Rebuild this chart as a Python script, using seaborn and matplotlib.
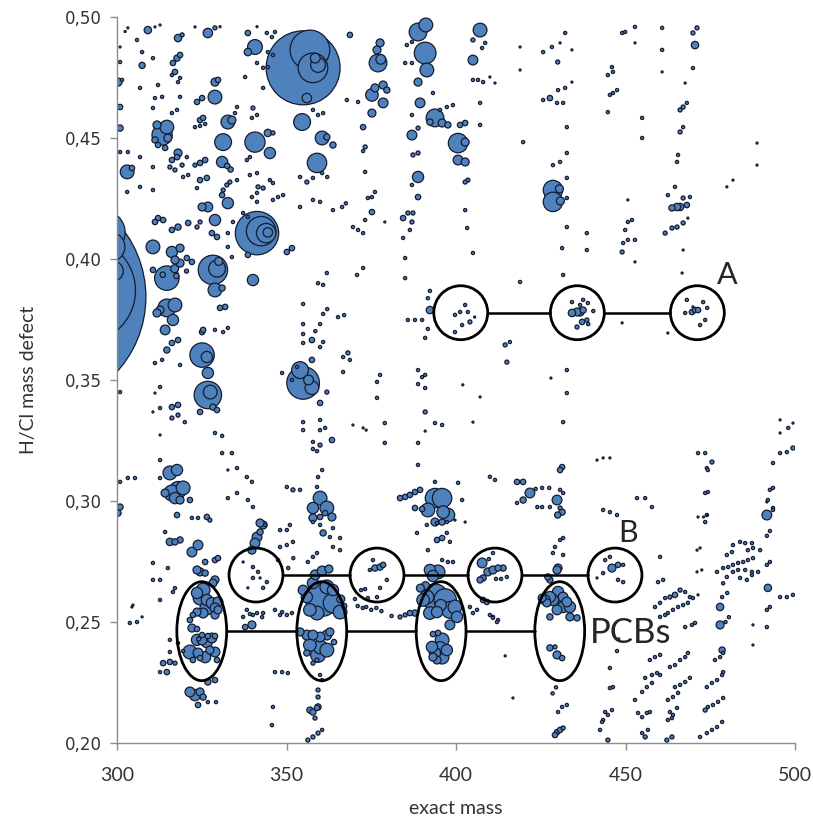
import numpy as np
import pandas as pd
import matplotlib
matplotlib.use("Agg")
import matplotlib.pyplot as plt
from matplotlib.patches import Ellipse
import seaborn as sns

# --- data: (exact mass, H/Cl mass defect, intensity) ---
big_bubbles = [
    (275.7, 0.3843, 15800), (290.0, 0.3870, 3500), (296.0, 0.4110, 600), (298.0, 0.4050, 275),
    (299.0, 0.3950, 120),
    (354.9, 0.4790, 1745), (356.9, 0.4864, 500), (357.8, 0.4790, 280), (359.3, 0.4802, 70),
    (356.0, 0.4665, 28), (358.5, 0.4830, 30),
    (341.3, 0.4107, 600), (342.5, 0.4115, 275), (344.0, 0.4107, 120), (344.5, 0.4110, 28),
    (328.3, 0.3955, 275), (329.5, 0.3960, 90), (330.0, 0.3990, 20),
    (354.9, 0.3488, 340), (354.0, 0.3541, 90), (357.5, 0.3468, 60), (356.5, 0.3500, 30),
    (326.8, 0.3438, 240), (327.5, 0.3450, 60),
    (325.1, 0.3603, 190), (326.5, 0.3595, 40),
]

upper_left = [
    (302.4, 0.4940, 1), (303.2, 0.4955, 1), (309.1, 0.4946, 17), (311.2, 0.4959, 1), (312.7, 0.4967, 1),
    (318.0, 0.4913, 17), (319.2, 0.4926, 5), (323.0, 0.4959, 1), (326.8, 0.4934, 28), (328.9, 0.4955, 5),
    (330.4, 0.4960, 1), (338.6, 0.4934, 9), (341.3, 0.4960, 1), (344.2, 0.4934, 3), (345.7, 0.4917, 3),
    (346.6, 0.4938, 3), (340.7, 0.4876, 70), (338.6, 0.4855, 17), (341.3, 0.4810, 3), (343.1, 0.4790, 3),
    (344.5, 0.4793, 3), (344.5, 0.4855, 3), (346.0, 0.4843, 3),
    (300.9, 0.4876, 1), (300.9, 0.4814, 3), (300.3, 0.4731, 20), (301.5, 0.4740, 3), (300.9, 0.4628, 9),
    (300.9, 0.4541, 12), (305.9, 0.4905, 3), (307.4, 0.4855, 3), (307.4, 0.4800, 12), (306.8, 0.4707, 3),
    (310.6, 0.4830, 3), (312.1, 0.4719, 3), (311.2, 0.4665, 3), (313.3, 0.4670, 3), (310.6, 0.4624, 3),
    (316.5, 0.4810, 9), (317.7, 0.4830, 12), (318.6, 0.4843, 9), (317.1, 0.4773, 9), (316.2, 0.4760, 3),
    (318.6, 0.4748, 3), (318.0, 0.4731, 3), (318.6, 0.4670, 3), (317.7, 0.4616, 3), (316.2, 0.4603, 3),
    (314.7, 0.4545, 60), (313.3, 0.4512, 130), (311.8, 0.4554, 20), (311.2, 0.4492, 12), (315.0, 0.4500, 20),
    (312.1, 0.4471, 9), (314.2, 0.4459, 9),
    (303.0, 0.4360, 60), (304.4, 0.4376, 9), (300.9, 0.4442, 3), (303.2, 0.4442, 3), (306.8, 0.4421, 3),
    (310.6, 0.4380, 3),
    (316.2, 0.4409, 9), (317.7, 0.4421, 9), (318.0, 0.4438, 20), (315.6, 0.4380, 5), (317.1, 0.4368, 5),
    (319.2, 0.4388, 5), (320.6, 0.4421, 3), (323.0, 0.4388, 5), (324.5, 0.4397, 9), (326.0, 0.4409, 9),
    (319.5, 0.4339, 3), (321.0, 0.4347, 3), (324.5, 0.4326, 9), (326.5, 0.4335, 9), (323.6, 0.4293, 3),
    (310.6, 0.4285, 3), (306.8, 0.4298, 3), (303.0, 0.4277, 3),
    (311.2, 0.4153, 9), (312.1, 0.4169, 9), (313.6, 0.4161, 9), (316.2, 0.4120, 9), (318.0, 0.4132, 12),
    (321.0, 0.4149, 9),
    (310.6, 0.4050, 60), (316.2, 0.4029, 40), (318.6, 0.4045, 20), (320.6, 0.4004, 9), (322.1, 0.3988, 9),
    (317.1, 0.3996, 20), (318.6, 0.3983, 20),
    (332.7, 0.4231, 40), (331.0, 0.4264, 9), (325.1, 0.4215, 20), (326.8, 0.4215, 30), (328.9, 0.4161, 40),
    (328.0, 0.4107, 9), (329.5, 0.4091, 9), (324.5, 0.4153, 5), (323.6, 0.4132, 5), (334.2, 0.4153, 3),
    (332.7, 0.4107, 3), (332.7, 0.4050, 3), (333.9, 0.4008, 3), (331.3, 0.4285, 5), (332.4, 0.4306, 5),
    (333.3, 0.4318, 5), (335.4, 0.4326, 3),
    (331.3, 0.4483, 90), (332.7, 0.4566, 60), (333.9, 0.4574, 20), (331.0, 0.4401, 40), (332.5, 0.4385, 9),
    (333.5, 0.4370, 9), (328.9, 0.4669, 60), (328.9, 0.4731, 20), (329.8, 0.4740, 9), (324.5, 0.4574, 9),
    (325.4, 0.4583, 9), (323.6, 0.4649, 9), (325.1, 0.4665, 9), (323.0, 0.4545, 3), (324.5, 0.4550, 3),
    (326.0, 0.4558, 3),
    (334.8, 0.4603, 3), (335.4, 0.4628, 3), (337.8, 0.4752, 3), (343.1, 0.4707, 3), (340.1, 0.4624, 5),
    (339.8, 0.4583, 3), (341.3, 0.4595, 3),
    (340.7, 0.4483, 130), (345.1, 0.4438, 40), (344.5, 0.4521, 17), (346.0, 0.4521, 5), (338.3, 0.4409, 3),
    (339.2, 0.4421, 3), (339.2, 0.4347, 3), (341.3, 0.4355, 3), (341.6, 0.4298, 5), (343.1, 0.4293, 5),
    (345.1, 0.4326, 3), (346.0, 0.4314, 3), (339.8, 0.4256, 3), (341.3, 0.4273, 3), (346.0, 0.4244, 3),
    (347.5, 0.4256, 3), (349.0, 0.4264, 3), (341.3, 0.4236, 3), (337.2, 0.4190, 3), (338.6, 0.4174, 3),
    (340.1, 0.3913, 40), (338.6, 0.4017, 9), (350.1, 0.4029, 9), (351.6, 0.4045, 9),
    (354.0, 0.4215, 3), (357.8, 0.4244, 3), (359.9, 0.4236, 3), (354.0, 0.4339, 3), (356.0, 0.4318, 5),
    (357.8, 0.4335, 3),
    (359.0, 0.4397, 120), (360.5, 0.4500, 60), (361.9, 0.4504, 12), (363.7, 0.4471, 12), (354.6, 0.4566, 90),
    (357.8, 0.4616, 3), (359.3, 0.4595, 3), (360.8, 0.4603, 3), (367.8, 0.4657, 3), (371.1, 0.4649, 3),
    (372.6, 0.4545, 9), (372.6, 0.4446, 3), (369.6, 0.4132, 3), (371.1, 0.4120, 3), (372.6, 0.4107, 3),
    (360.5, 0.4355, 3), (362.0, 0.4339, 3), (363.7, 0.4202, 3), (366.4, 0.4215, 3), (367.5, 0.4230, 3),
]

upper_mid = [
    (377.0, 0.4810, 100), (377.8, 0.4825, 30), (377.6, 0.4893, 20), (376.7, 0.4864, 20), (375.2, 0.4678, 50),
    (376.1, 0.4707, 20), (378.5, 0.4719, 20), (379.6, 0.4698, 12), (378.5, 0.4645, 30), (375.2, 0.4603, 20),
    (373.2, 0.4463, 5), (373.2, 0.4360, 3), (374.0, 0.4252, 3), (375.2, 0.4256, 3), (376.1, 0.4277, 3),
    (375.2, 0.4194, 9), (373.2, 0.4161, 3), (379.0, 0.4153, 1), (368.7, 0.4926, 9),
    (388.8, 0.4938, 100), (391.1, 0.4967, 60), (390.9, 0.4851, 150), (391.4, 0.4781, 60), (388.8, 0.4731, 20),
    (385.5, 0.4884, 3), (387.0, 0.4897, 3), (385.0, 0.4810, 3), (387.0, 0.4810, 3), (393.2, 0.4686, 3),
    (389.4, 0.4645, 30), (387.0, 0.4595, 3), (393.8, 0.4583, 100), (392.3, 0.4566, 12), (395.9, 0.4562, 20),
    (397.6, 0.4554, 12), (395.3, 0.4616, 3), (397.3, 0.4628, 3), (399.1, 0.4636, 3), (387.0, 0.4512, 30),
    (388.8, 0.4541, 5), (387.3, 0.4430, 5), (388.8, 0.4438, 5), (388.8, 0.4339, 40), (387.0, 0.4306, 3),
    (388.8, 0.4256, 9), (385.8, 0.4190, 5), (384.4, 0.4169, 9), (387.3, 0.4190, 5), (387.0, 0.4153, 5),
    (386.4, 0.4120, 3), (384.4, 0.4087, 3), (385.0, 0.4004, 3),
    (400.6, 0.4479, 120), (402.7, 0.4483, 20), (400.6, 0.4409, 30), (402.7, 0.4401, 20), (401.2, 0.4554, 9),
    (402.7, 0.4562, 9), (402.7, 0.4318, 5), (403.5, 0.4326, 5), (402.7, 0.4202, 3), (403.3, 0.4128, 3),
    (405.0, 0.4025, 3),
    (407.1, 0.4946, 60), (405.0, 0.4905, 5), (405.0, 0.4822, 30), (407.7, 0.4872, 3), (408.6, 0.4893, 3),
    (405.0, 0.4740, 3), (406.5, 0.4740, 3), (408.0, 0.4731, 3), (410.0, 0.4752, 1), (411.5, 0.4727, 1),
    (407.1, 0.4645, 3), (407.1, 0.4554, 3),
    (428.6, 0.4388, 3), (430.7, 0.4401, 3), (428.6, 0.4285, 120), (428.6, 0.4236, 120), (430.5, 0.4290, 20),
    (430.8, 0.4240, 20), (432.7, 0.4335, 3), (432.7, 0.4252, 3), (432.7, 0.4438, 3), (432.7, 0.4545, 3),
    (430.0, 0.4814, 5), (432.2, 0.4934, 3), (434.2, 0.4864, 1), (430.7, 0.4893, 1), (428.3, 0.4876, 3),
    (425.7, 0.4855, 3), (418.9, 0.4876, 1), (418.9, 0.4781, 1), (425.7, 0.4657, 3), (427.7, 0.4665, 9),
    (429.8, 0.4645, 3), (431.6, 0.4645, 3), (430.1, 0.4698, 3), (432.2, 0.4707, 3), (434.2, 0.4731, 1),
    (432.7, 0.4132, 3), (431.3, 0.4045, 3), (438.6, 0.4107, 3), (438.6, 0.4037, 3), (419.8, 0.4483, 3),
    (446.0, 0.4793, 3), (446.3, 0.4773, 3), (444.8, 0.4760, 3), (446.3, 0.4686, 3), (447.5, 0.4698, 3),
    (445.4, 0.4678, 3), (444.8, 0.4607, 3),
]

upper_right = [
    (449.0, 0.4934, 3), (449.9, 0.4938, 3), (452.8, 0.4959, 3), (452.8, 0.4893, 1), (454.9, 0.4583, 3),
    (454.9, 0.4500, 3), (460.8, 0.4955, 3), (460.8, 0.4864, 3), (460.8, 0.4773, 1), (471.1, 0.4955, 5),
    (469.9, 0.4934, 5), (470.5, 0.4884, 17), (469.9, 0.4789, 3), (467.6, 0.4727, 1), (467.0, 0.4628, 5),
    (466.1, 0.4616, 5), (468.1, 0.4645, 3), (467.0, 0.4545, 3), (466.1, 0.4525, 5), (465.5, 0.4430, 3),
    (465.2, 0.4401, 3), (464.6, 0.4298, 3), (462.5, 0.4264, 3), (467.0, 0.4252, 5), (469.0, 0.4256, 3),
    (463.7, 0.4211, 12), (465.2, 0.4215, 17), (466.1, 0.4215, 17), (468.1, 0.4223, 9), (461.7, 0.4107, 5),
    (463.7, 0.4128, 5), (465.2, 0.4132, 5), (467.0, 0.4149, 5), (468.4, 0.4169, 1), (450.7, 0.4244, 1),
    (449.9, 0.4120, 3), (450.7, 0.4153, 3), (451.9, 0.4161, 3), (449.3, 0.4066, 3), (450.7, 0.4079, 3),
    (452.8, 0.4079, 3), (449.0, 0.4029, 5), (452.8, 0.3988, 1), (467.0, 0.4037, 1), (488.8, 0.4479, 1),
    (488.8, 0.4388, 1), (479.9, 0.4298, 1), (481.7, 0.4326, 1),
]

middle_left = [
    (314.7, 0.3921, 190), (317.0, 0.3960, 20), (310.6, 0.3955, 9), (313.5, 0.3935, 9), (317.5, 0.3930, 9),
    (320.5, 0.3950, 5),
    (314.7, 0.3798, 100), (317.1, 0.3810, 60), (312.7, 0.3789, 20), (311.8, 0.3777, 20), (316.5, 0.3748, 40),
    (314.2, 0.3707, 30), (318.0, 0.3665, 9), (316.2, 0.3653, 9), (314.7, 0.3624, 12),
    (328.9, 0.3872, 60), (331.0, 0.3880, 12), (326.8, 0.3529, 40), (328.3, 0.3388, 12), (329.5, 0.3376, 9),
    (324.5, 0.3368, 9), (325.1, 0.3698, 9), (325.4, 0.3707, 9), (330.4, 0.3798, 9), (331.9, 0.3802, 9),
    (328.9, 0.3707, 3), (331.3, 0.3698, 3), (332.7, 0.3715, 3),
    (318.6, 0.3562, 3), (313.3, 0.3583, 3), (311.2, 0.3570, 3), (312.7, 0.3471, 3), (311.2, 0.3446, 1),
    (312.7, 0.3384, 3), (316.2, 0.3388, 9), (318.0, 0.3397, 9), (316.2, 0.3343, 5), (318.0, 0.3355, 5),
    (320.0, 0.3326, 3), (310.6, 0.3368, 1), (300.9, 0.3450, 3), (312.7, 0.3273, 1), (312.7, 0.3169, 3),
    (328.9, 0.3281, 3), (331.0, 0.3269, 3), (331.0, 0.3198, 3), (333.9, 0.3198, 3),
    (315.6, 0.3116, 60), (317.7, 0.3128, 40), (316.2, 0.3033, 80), (318.0, 0.3046, 90), (319.5, 0.3054, 60),
    (314.2, 0.3033, 20), (317.1, 0.3012, 40), (318.6, 0.3004, 20), (321.5, 0.3004, 9), (312.7, 0.3095, 3),
    (300.9, 0.3079, 3), (303.2, 0.3095, 3), (305.3, 0.3095, 3), (300.9, 0.2975, 12), (300.3, 0.2950, 12),
    (317.7, 0.2942, 9), (322.1, 0.2930, 3), (323.9, 0.2930, 3), (326.5, 0.2934, 9), (327.4, 0.2921, 5),
    (332.7, 0.3012, 3), (335.4, 0.3033, 3), (338.6, 0.3004, 3), (332.7, 0.3128, 1), (335.4, 0.3136, 3),
    (338.3, 0.3099, 3), (339.8, 0.3079, 3), (340.1, 0.2975, 3), (342.2, 0.2909, 20), (343.7, 0.2901, 3),
    (359.9, 0.3405, 9), (361.9, 0.3450, 5), (357.5, 0.3583, 9), (353.1, 0.3554, 3), (351.6, 0.3500, 3),
    (348.7, 0.3529, 3), (354.9, 0.3653, 3), (357.5, 0.3665, 9), (359.9, 0.3636, 3), (360.8, 0.3657, 3),
    (354.9, 0.3731, 3), (354.9, 0.3690, 3), (358.5, 0.3702, 3), (359.9, 0.3731, 3), (360.8, 0.3773, 3),
    (362.0, 0.3793, 3), (354.9, 0.3814, 3), (359.3, 0.3900, 3), (361.9, 0.3942, 3), (360.8, 0.3893, 3),
    (365.2, 0.3760, 3), (367.0, 0.3768, 3), (370.8, 0.3934, 3), (372.6, 0.3963, 3),
    (354.9, 0.3326, 3), (354.9, 0.3293, 3), (357.8, 0.3244, 3), (359.9, 0.3231, 5), (363.4, 0.3252, 9),
    (359.9, 0.3293, 3), (361.4, 0.3302, 3), (359.9, 0.3335, 3), (357.8, 0.3215, 3), (359.0, 0.3206, 3),
    (359.3, 0.3099, 3), (360.5, 0.3128, 3), (359.0, 0.3058, 3), (359.9, 0.3012, 60),
    (357.8, 0.2971, 40), (361.9, 0.2971, 60), (363.4, 0.2934, 20), (357.8, 0.2930, 20), (359.9, 0.2934, 9),
    (361.4, 0.2950, 9), (350.1, 0.3058, 3), (351.9, 0.3046, 5), (354.0, 0.3046, 3), (369.6, 0.3314, 1),
    (366.7, 0.3595, 3), (368.1, 0.3612, 5), (368.7, 0.3583, 3), (366.7, 0.3533, 3),
]

middle_mid = [
    (385.0, 0.3921, 3), (392.3, 0.3789, 17), (385.8, 0.3748, 3), (387.9, 0.3748, 3), (390.0, 0.3748, 3),
    (391.7, 0.3711, 3), (390.9, 0.3674, 3), (392.3, 0.3868, 3), (391.7, 0.3838, 3),
    (402.7, 0.3810, 3), (401.2, 0.3781, 3), (399.7, 0.3769, 3), (404.1, 0.3740, 5), (401.8, 0.3727, 3),
    (399.7, 0.3698, 3), (403.5, 0.3781, 3), (405.5, 0.3760, 1),
    (414.5, 0.3645, 5), (415.9, 0.3657, 3), (415.0, 0.3574, 5),
    (431.6, 0.3934, 3), (434.2, 0.3777, 17), (435.7, 0.3781, 20), (436.6, 0.3781, 20), (437.5, 0.3789, 12),
    (437.2, 0.3740, 9), (438.6, 0.3748, 5), (435.7, 0.3719, 5), (434.2, 0.3822, 3), (436.6, 0.3810, 3),
    (438.9, 0.3818, 3), (437.5, 0.3831, 3), (440.5, 0.3785, 3), (439.0, 0.3731, 3), (432.7, 0.3541, 3),
    (432.7, 0.3446, 3), (431.6, 0.3326, 3), (428.0, 0.3508, 1), (418.9, 0.3905, 3),
    (390.0, 0.3512, 3), (390.9, 0.3521, 3), (388.8, 0.3541, 3), (377.6, 0.3521, 3), (376.7, 0.3492, 3),
    (388.8, 0.3483, 3), (390.9, 0.3467, 3), (376.7, 0.3426, 3), (390.9, 0.3368, 5), (379.0, 0.3322, 3),
    (393.8, 0.3322, 3), (395.9, 0.3314, 3), (390.9, 0.3289, 1), (372.6, 0.3302, 1), (373.5, 0.3293, 1),
    (379.0, 0.3240, 3), (388.8, 0.3240, 3), (407.1, 0.3430, 1), (405.0, 0.3326, 1), (402.0, 0.3480, 1),
    (388.8, 0.3149, 3),
    (383.5, 0.3012, 9), (385.0, 0.3017, 9), (386.4, 0.3025, 9), (387.9, 0.3037, 9), (389.4, 0.3046, 9),
    (393.8, 0.3012, 120), (395.9, 0.3012, 120), (391.7, 0.2963, 60), (396.2, 0.2954, 50), (397.6, 0.2942, 60),
    (387.9, 0.2971, 9), (390.0, 0.2967, 9), (393.8, 0.2913, 20), (395.9, 0.2913, 12), (393.8, 0.3079, 3),
    (400.6, 0.3075, 3), (401.8, 0.3004, 3),
    (410.0, 0.3100, 3), (411.5, 0.3087, 3), (418.0, 0.3079, 9), (419.8, 0.3079, 9), (421.8, 0.3033, 30),
    (419.8, 0.3004, 12), (418.0, 0.2992, 3), (423.5, 0.3050, 3), (425.4, 0.3054, 3), (427.5, 0.3054, 3),
    (424.0, 0.2975, 3), (425.4, 0.2975, 3), (429.8, 0.3004, 30), (430.7, 0.3046, 3), (431.6, 0.3033, 3),
    (430.7, 0.3128, 9), (431.3, 0.3140, 9), (427.7, 0.2975, 3), (430.0, 0.2942, 12), (431.3, 0.2954, 12),
    (430.7, 0.2971, 5),
    (441.6, 0.3169, 1), (443.4, 0.3178, 1), (445.4, 0.3178, 1), (443.4, 0.2963, 3), (445.4, 0.2954, 3),
    (447.5, 0.2942, 3),
]

middle_right = [
    (468.1, 0.3831, 3), (467.6, 0.3777, 3), (469.6, 0.3781, 9), (470.5, 0.3789, 9), (471.4, 0.3789, 9),
    (472.9, 0.3822, 3), (474.1, 0.3798, 3), (472.0, 0.3727, 3), (473.5, 0.3748, 3), (469.9, 0.3802, 1),
    (449.0, 0.3736, 1), (462.5, 0.3694, 1), (466.7, 0.3942, 1),
    (471.4, 0.3198, 3), (473.5, 0.3198, 3), (475.5, 0.3161, 5), (474.0, 0.3136, 3), (474.3, 0.3128, 3),
    (473.5, 0.3033, 3), (474.3, 0.3037, 3), (474.0, 0.2942, 3), (473.5, 0.2913, 3),
    (495.6, 0.3335, 1), (498.0, 0.3302, 3), (499.4, 0.3322, 1), (495.6, 0.3281, 1), (495.6, 0.3198, 3),
    (497.6, 0.3202, 3), (499.4, 0.3219, 5), (493.5, 0.3157, 3), (492.6, 0.3046, 3), (493.5, 0.3054, 3),
    (491.7, 0.2996, 1), (493.5, 0.2963, 3), (491.7, 0.2942, 30),
    (453.4, 0.3012, 3), (455.8, 0.3012, 3), (457.8, 0.2975, 3),
]

lower_left = [
    (314.2, 0.2872, 3), (315.6, 0.2831, 17), (317.1, 0.2831, 12), (318.6, 0.2839, 12), (322.1, 0.2789, 30),
    (323.9, 0.2818, 30), (326.0, 0.2748, 9), (328.9, 0.2756, 9), (329.8, 0.2764, 9), (310.6, 0.2744, 3),
    (315.0, 0.2723, 3), (310.6, 0.2674, 3), (312.7, 0.2674, 3), (323.6, 0.2715, 20), (324.5, 0.2707, 20),
    (326.0, 0.2702, 12), (328.9, 0.2674, 20), (328.3, 0.2661, 20), (317.1, 0.2640, 3), (316.5, 0.2624, 3),
    (312.7, 0.2591, 3),
    (323.6, 0.2620, 40), (325.4, 0.2632, 60), (324.5, 0.2599, 60), (326.5, 0.2591, 40), (328.0, 0.2578, 40),
    (328.9, 0.2558, 30), (329.8, 0.2583, 30), (326.5, 0.2558, 60), (325.4, 0.2537, 30), (323.6, 0.2541, 20),
    (329.8, 0.2550, 20), (328.9, 0.2529, 20),
    (322.4, 0.2529, 9), (321.5, 0.2508, 9), (322.1, 0.2475, 20), (323.6, 0.2471, 9), (325.1, 0.2446, 9),
    (324.1, 0.2430, 5), (326.8, 0.2442, 9), (328.9, 0.2442, 9),
    (323.6, 0.2426, 40), (325.1, 0.2426, 30), (326.5, 0.2417, 40), (328.0, 0.2434, 30), (321.5, 0.2376, 60),
    (323.9, 0.2372, 30), (326.0, 0.2355, 40), (327.4, 0.2384, 20), (328.9, 0.2376, 30), (322.4, 0.2343, 9),
    (324.5, 0.2351, 9), (329.5, 0.2343, 9),
    (313.6, 0.2330, 9), (315.6, 0.2335, 9), (317.1, 0.2330, 5), (314.7, 0.2293, 9), (312.7, 0.2293, 3),
    (326.8, 0.2252, 12), (328.9, 0.2260, 9), (321.5, 0.2211, 30), (323.0, 0.2198, 40), (324.5, 0.2211, 20),
    (325.4, 0.2190, 12), (323.9, 0.2157, 9), (326.8, 0.2169, 3), (329.2, 0.2169, 3),
    (303.8, 0.2496, 3), (305.9, 0.2500, 3), (307.4, 0.2521, 1), (304.4, 0.2562, 1), (304.7, 0.2570, 1),
    (315.6, 0.2426, 3), (318.0, 0.2413, 3), (315.6, 0.2376, 3), (319.5, 0.2380, 3),
    (339.8, 0.2797, 20), (340.7, 0.2826, 30), (341.3, 0.2851, 30), (342.2, 0.2872, 12), (343.1, 0.2901, 20),
    (337.2, 0.2748, 1), (340.1, 0.2727, 3), (341.6, 0.2707, 3), (340.1, 0.2682, 3), (342.2, 0.2682, 1),
    (344.2, 0.2665, 3), (338.6, 0.2641, 1), (343.1, 0.2641, 3),
    (348.1, 0.2880, 3), (350.1, 0.2880, 3), (351.0, 0.2901, 3), (348.1, 0.2810, 3), (350.1, 0.2818, 3),
    (351.9, 0.2831, 3), (347.5, 0.2756, 3), (352.0, 0.2764, 3), (350.5, 0.2723, 3),
    (337.2, 0.2521, 3), (339.2, 0.2533, 3), (338.3, 0.2550, 3), (340.1, 0.2529, 3), (341.3, 0.2537, 3),
    (342.8, 0.2520, 3), (343.1, 0.2537, 3), (337.8, 0.2479, 9), (339.8, 0.2488, 20), (346.6, 0.2550, 3),
    (348.1, 0.2529, 3), (348.7, 0.2541, 3), (350.1, 0.2529, 3), (351.6, 0.2537, 3),
    (346.6, 0.2293, 3), (348.7, 0.2293, 3), (350.4, 0.2289, 3), (346.0, 0.2149, 3), (345.7, 0.2074, 3),
]

lower_mid = [
    (360.5, 0.2591, 340), (363.7, 0.2578, 120), (365.8, 0.2541, 60), (356.0, 0.2603, 40), (354.9, 0.2632, 30),
    (356.9, 0.2550, 50), (359.0, 0.2537, 60), (357.8, 0.2661, 40), (361.9, 0.2645, 60), (363.7, 0.2632, 40),
    (358.5, 0.2695, 30), (360.5, 0.2711, 30), (362.5, 0.2719, 20), (366.0, 0.2595, 20), (367.0, 0.2566, 9),
    (354.0, 0.2459, 20), (356.0, 0.2446, 30), (357.8, 0.2446, 30), (359.9, 0.2438, 30), (361.9, 0.2446, 30),
    (362.8, 0.2459, 20), (356.9, 0.2405, 50), (359.9, 0.2397, 60), (361.9, 0.2384, 60), (359.3, 0.2364, 70),
    (356.0, 0.2372, 12), (357.8, 0.2330, 5), (359.0, 0.2343, 5), (364.0, 0.2417, 9),
    (359.9, 0.2281, 3), (360.5, 0.2260, 3), (359.3, 0.2219, 5), (359.3, 0.2190, 5), (356.9, 0.2136, 12),
    (357.8, 0.2128, 12), (359.0, 0.2145, 9), (359.3, 0.2149, 12), (358.4, 0.2103, 5), (356.3, 0.2012, 5),
    (357.8, 0.2025, 5), (359.3, 0.2041, 5), (360.5, 0.2054, 3),
    (357.8, 0.2913, 3), (359.9, 0.2901, 3), (360.8, 0.2868, 12), (363.7, 0.2888, 3), (362.8, 0.2851, 3),
    (365.8, 0.2847, 3), (363.7, 0.2810, 3), (365.8, 0.2797, 3), (356.3, 0.2748, 3), (357.8, 0.2769, 3),
    (359.0, 0.2785, 3), (370.2, 0.2595, 3), (372.0, 0.2632, 3), (373.2, 0.2636, 3),
    (388.5, 0.2868, 3), (391.4, 0.2901, 3), (394.4, 0.2909, 3), (397.3, 0.2913, 3), (399.7, 0.2921, 1),
    (402.7, 0.2913, 1), (391.7, 0.2797, 3), (394.4, 0.2839, 9), (395.9, 0.2847, 9), (397.3, 0.2868, 3),
    (398.2, 0.2831, 3), (395.9, 0.2756, 3), (397.6, 0.2748, 3), (399.1, 0.2748, 3),
    (374.6, 0.2715, 3), (376.1, 0.2723, 12), (377.6, 0.2727, 12), (378.5, 0.2736, 9), (375.5, 0.2756, 3),
    (379.6, 0.2674, 3), (377.6, 0.2641, 3), (374.0, 0.2599, 3), (376.7, 0.2603, 3), (371.0, 0.2566, 3),
    (372.5, 0.2558, 3), (373.5, 0.2562, 3), (375.0, 0.2550, 3), (376.5, 0.2558, 3), (378.0, 0.2545, 3),
    (381.0, 0.2525, 3),
    (407.7, 0.2744, 30), (409.4, 0.2707, 20), (410.9, 0.2715, 20), (412.4, 0.2723, 12), (413.9, 0.2723, 12),
    (408.0, 0.2682, 12), (407.1, 0.2674, 12), (411.8, 0.2678, 3), (413.3, 0.2678, 3), (415.0, 0.2686, 3),
    (410.9, 0.2785, 3), (409.7, 0.2760, 3), (408.0, 0.2591, 9), (409.1, 0.2583, 9), (410.9, 0.2521, 3),
    (412.4, 0.2508, 3),
    (394.7, 0.2707, 60), (392.3, 0.2715, 40), (393.2, 0.2690, 40), (393.8, 0.2603, 220), (396.8, 0.2591, 160),
    (391.4, 0.2603, 60), (390.3, 0.2591, 50), (398.2, 0.2550, 90), (399.7, 0.2562, 60), (400.3, 0.2521, 40),
    (392.3, 0.2537, 50), (394.4, 0.2541, 40), (395.5, 0.2570, 40), (389.5, 0.2640, 20), (391.0, 0.2650, 20),
    (387.9, 0.2537, 12), (386.4, 0.2537, 9), (385.0, 0.2529, 5), (383.5, 0.2521, 5), (398.2, 0.2488, 30),
    (395.9, 0.2426, 60), (393.2, 0.2450, 9), (394.7, 0.2455, 9), (392.9, 0.2397, 40), (395.3, 0.2393, 50),
    (397.3, 0.2384, 40), (393.8, 0.2372, 40), (395.9, 0.2355, 60), (393.2, 0.2355, 20), (394.4, 0.2343, 20),
    (404.1, 0.2562, 3), (405.0, 0.2537, 3), (406.2, 0.2550, 3), (410.0, 0.2529, 3), (410.9, 0.2517, 3),
    (412.1, 0.2500, 3), (416.8, 0.2186, 1), (414.5, 0.2360, 1),
    (427.7, 0.2603, 40), (426.3, 0.2591, 30), (428.6, 0.2591, 40), (429.8, 0.2603, 50), (430.1, 0.2624, 40),
    (431.6, 0.2603, 30), (432.7, 0.2583, 30), (433.6, 0.2562, 40), (431.6, 0.2562, 40), (429.8, 0.2550, 30),
    (426.8, 0.2579, 20), (425.4, 0.2599, 20), (433.6, 0.2521, 20), (435.7, 0.2517, 12), (427.7, 0.2521, 12),
    (427.7, 0.2393, 12), (429.8, 0.2364, 20), (431.3, 0.2351, 9), (429.2, 0.2397, 5), (429.8, 0.2715, 20),
    (430.1, 0.2723, 20), (427.7, 0.2674, 12), (427.1, 0.2686, 12),
    (428.6, 0.2785, 3), (431.6, 0.2777, 3), (429.2, 0.2810, 3), (430.7, 0.2839, 3), (431.6, 0.2847, 3),
    (430.1, 0.2128, 3), (431.3, 0.2149, 3), (432.7, 0.2157, 3), (429.8, 0.2045, 9), (430.7, 0.2054, 9),
    (431.6, 0.2062, 5), (429.2, 0.2033, 9), (428.5, 0.2205, 3), (429.5, 0.2230, 3),
]

lower_right = [
    (444.0, 0.2756, 3), (445.4, 0.2769, 3), (446.0, 0.2723, 20), (447.8, 0.2736, 9), (449.3, 0.2736, 3),
    (443.4, 0.2702, 3), (447.8, 0.2674, 3), (449.3, 0.2665, 3), (441.6, 0.2682, 1),
    (445.4, 0.2310, 3), (445.4, 0.2227, 3), (446.3, 0.2231, 3), (444.0, 0.2128, 3), (444.8, 0.2116, 3),
    (446.0, 0.2136, 3), (443.1, 0.2087, 3), (443.4, 0.2095, 3), (442.5, 0.2054, 3), (444.8, 0.2012, 5),
    (447.5, 0.2380, 3), (448.0, 0.2430, 1),
    (452.8, 0.2178, 3), (454.9, 0.2211, 3), (456.3, 0.2231, 3), (457.8, 0.2248, 3), (455.8, 0.2269, 3),
    (457.8, 0.2281, 3), (459.3, 0.2289, 3), (460.2, 0.2281, 3), (453.7, 0.2124, 3), (454.9, 0.2107, 3),
    (456.3, 0.2124, 3), (457.2, 0.2128, 3), (454.9, 0.2041, 3), (455.8, 0.2025, 5), (456.6, 0.2054, 3),
    (457.2, 0.2343, 3), (458.7, 0.2355, 3), (460.2, 0.2364, 3),
    (458.7, 0.2562, 3), (460.2, 0.2579, 3), (461.7, 0.2599, 3), (463.1, 0.2603, 5), (464.6, 0.2612, 9),
    (466.1, 0.2632, 5), (467.6, 0.2624, 3), (469.0, 0.2603, 3), (469.9, 0.2599, 3), (471.4, 0.2612, 1),
    (460.2, 0.2521, 3), (461.7, 0.2529, 3), (462.5, 0.2537, 3), (464.0, 0.2550, 3), (465.5, 0.2562, 3),
    (467.0, 0.2570, 3), (468.4, 0.2579, 3), (459.6, 0.2665, 3), (461.1, 0.2674, 3), (460.2, 0.2769, 3),
    (467.6, 0.2479, 3), (469.6, 0.2488, 3), (470.5, 0.2496, 3),
    (463.1, 0.2314, 3), (464.6, 0.2322, 3), (466.1, 0.2343, 3), (467.6, 0.2355, 3), (468.4, 0.2372, 3),
    (464.6, 0.2231, 3), (466.1, 0.2240, 3), (467.6, 0.2252, 3), (469.0, 0.2269, 3), (462.5, 0.2178, 3),
    (464.0, 0.2190, 3), (465.5, 0.2207, 3), (463.1, 0.2128, 3), (464.0, 0.2116, 3), (465.2, 0.2145, 3),
    (462.5, 0.2095, 3), (463.7, 0.2103, 3), (462.2, 0.2012, 5), (463.7, 0.2025, 5),
    (472.0, 0.2025, 3), (474.0, 0.2041, 3), (475.5, 0.2054, 3), (477.0, 0.2066, 3), (478.5, 0.2087, 3),
    (473.5, 0.2136, 5), (474.3, 0.2149, 3), (475.8, 0.2157, 3), (477.3, 0.2170, 3), (478.8, 0.2186, 3),
    (474.0, 0.2231, 3), (475.5, 0.2248, 3), (477.0, 0.2260, 3), (478.5, 0.2281, 3), (478.8, 0.2293, 3),
    (476.4, 0.2343, 3), (477.9, 0.2355, 3), (478.8, 0.2372, 3), (478.5, 0.2384, 12), (477.9, 0.2488, 20),
    (479.5, 0.2500, 3), (480.5, 0.2520, 3), (477.9, 0.2562, 17), (478.5, 0.2603, 3), (480.0, 0.2620, 3),
    (478.8, 0.2660, 3),
    (477.0, 0.2707, 3), (478.8, 0.2723, 3), (480.3, 0.2727, 3), (481.7, 0.2736, 3), (483.2, 0.2744, 3),
    (484.7, 0.2748, 3), (486.1, 0.2756, 3), (487.6, 0.2764, 3), (479.9, 0.2686, 3), (481.7, 0.2707, 3),
    (483.2, 0.2715, 3), (485.3, 0.2715, 3), (487.3, 0.2707, 3), (489.1, 0.2707, 3), (481.7, 0.2818, 3),
    (483.8, 0.2831, 3), (485.3, 0.2826, 3), (486.1, 0.2797, 3), (487.6, 0.2806, 3), (489.7, 0.2797, 3),
    (487.3, 0.2826, 3), (479.9, 0.2777, 3), (481.4, 0.2789, 3), (483.8, 0.2682, 3), (485.8, 0.2674, 3),
    (487.3, 0.2694, 3),
    (491.7, 0.2736, 3), (492.6, 0.2748, 3), (492.0, 0.2641, 17), (491.7, 0.2550, 3), (492.6, 0.2562, 3),
    (491.7, 0.2479, 3), (487.6, 0.2488, 1), (487.6, 0.2405, 1), (491.7, 0.2856, 3), (492.6, 0.2876, 3),
    (493.5, 0.2971, 3), (492.0, 0.3004, 3),
    (495.6, 0.2603, 3), (497.6, 0.2603, 3), (499.4, 0.2612, 3), (471.4, 0.2934, 1), (473.0, 0.2934, 1),
    (474.0, 0.2942, 1), (471.1, 0.2797, 1), (472.0, 0.2806, 1), (471.1, 0.2707, 1), (472.5, 0.2715, 1),
]

# annotation groups (centres in data units)
group_a_mass = [401.4, 435.8, 471.2]
group_a_defect = 0.3778
group_b_mass = [341.0, 376.7, 411.5, 446.9]
group_b_defect = 0.2694
pcb_mass = [325.0, 360.4, 395.6, 430.6]
pcb_defect = 0.2462

# --- build table ---
rows = (big_bubbles + upper_left + upper_mid + upper_right + middle_left + middle_mid
        + middle_right + lower_left + lower_mid + lower_right)
df = pd.DataFrame(rows, columns=["mass", "defect", "intensity"])
df = df.sort_values("intensity", ascending=False).reset_index(drop=True)

sns.set_style("ticks")
plt.rcParams["font.family"] = ["Lato", "DejaVu Sans"]

fig = plt.figure(figsize=(8.13, 8.22), dpi=100)
ax = fig.add_axes([117 / 813, 1 - 743 / 822, 678 / 813, 726 / 822])

sns.scatterplot(data=df, x="mass", y="defect", size="intensity",
                sizes=(0.5, 26000), size_norm=(0, 16000),
                color="#4F81BD", edgecolor="#141c30", linewidth=0.9,
                legend=False, ax=ax, zorder=2)

ax.set_xlim(300, 500)
ax.set_ylim(0.20, 0.50)

# circles / ellipses marking the series
circ_w, circ_h = 15.9, 0.0223
ell_w, ell_h = 14.7, 0.0409
for m in group_a_mass:
    ax.add_patch(Ellipse((m, group_a_defect), circ_w, circ_h, fill=False, lw=2.0, ec="black", zorder=3))
for m in group_b_mass:
    ax.add_patch(Ellipse((m, group_b_defect), circ_w, circ_h, fill=False, lw=2.0, ec="black", zorder=3))
for m in pcb_mass:
    ax.add_patch(Ellipse((m, pcb_defect), ell_w, ell_h, fill=False, lw=2.0, ec="black", zorder=3))
for centres, y, w in [(group_a_mass, group_a_defect, circ_w),
                      (group_b_mass, group_b_defect, circ_w),
                      (pcb_mass, pcb_defect, ell_w)]:
    for a, b in zip(centres[:-1], centres[1:]):
        ax.plot([a + w / 2, b - w / 2], [y, y], color="black", lw=1.8, zorder=3)

ax.text(479.9, 0.3935, "A", fontsize=22, ha="center", va="center", zorder=4)
ax.text(450.7, 0.2868, "B", fontsize=22, ha="center", va="center", zorder=4)
ax.text(451.6, 0.2455, "PCBs", fontsize=25, ha="center", va="center", zorder=4)

# axes styling
xt = [300, 350, 400, 450, 500]
yt = [0.20, 0.25, 0.30, 0.35, 0.40, 0.45, 0.50]
ax.set_xticks(xt, [str(v) for v in xt], fontsize=14, color="#333333")
ax.set_yticks(yt, [f"{v:.2f}".replace(".", ",") for v in yt], fontsize=12,
              fontfamily="DejaVu Sans", color="#333333")
ax.tick_params(axis="both", length=5, width=1, color="#8c8c8c")
ax.tick_params(axis="x", pad=12)
ax.tick_params(axis="y", pad=6)
sns.despine(ax=ax)
for s in ["left", "bottom"]:
    ax.spines[s].set_color("#8c8c8c")
    ax.spines[s].set_linewidth(1.0)

ax.set_xlabel("exact mass", fontsize=14, color="#333333")
ax.set_ylabel("H/Cl mass defect", fontsize=14, color="#333333")
ax.xaxis.set_label_coords(0.5, -0.078)
ax.yaxis.set_label_coords(-0.118, 0.5)

fig.savefig("out.png", dpi=100)
